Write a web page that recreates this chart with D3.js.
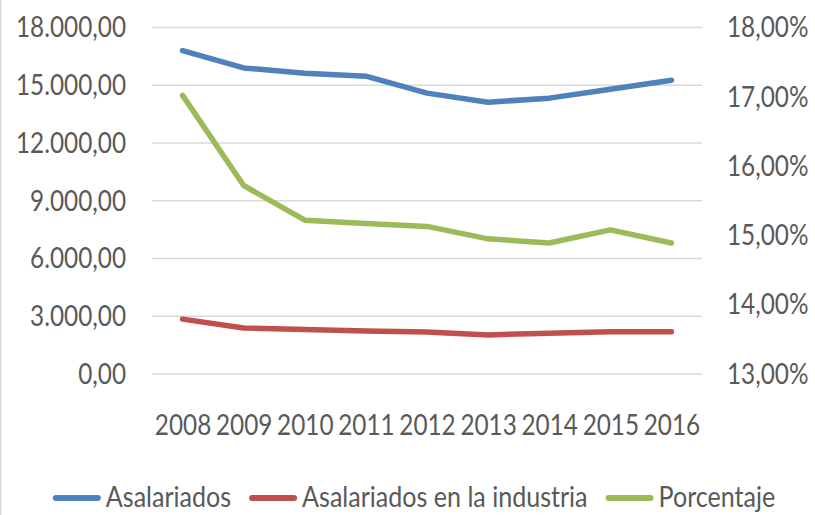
<!DOCTYPE html>
<html>
<head>
<meta charset="utf-8">
<title>Asalariados</title>
<script src="https://cdn.jsdelivr.net/npm/d3@7"></script>
<style>
	body { margin: 0; background: #fff; }
	text { font-family: Lato, "Open Sans", sans-serif; fill: #595959; }
	.grid line { stroke: #d9d9d9; stroke-width: 1.5; }
	.serie { fill: none; stroke-width: 5.5; stroke-linecap: round; stroke-linejoin: round; }
</style>
</head>
<body>
<div id="chart"></div>
<script>
	// datos
	var anios = ["2008", "2009", "2010", "2011", "2012", "2013", "2014", "2015", "2016"];
	var asalariados = [16800, 15900, 15620, 15470, 14590, 14120, 14330, 14790, 15260];
	var industria = [2850, 2390, 2310, 2230, 2180, 2030, 2120, 2200, 2200];
	var porcentaje = [17.02, 15.72, 15.22, 15.17, 15.13, 14.95, 14.89, 15.08, 14.89];
	var ticksIzq = [0, 3000, 6000, 9000, 12000, 15000, 18000];
	var ticksDer = [13, 14, 15, 16, 17, 18];

	var width = 815, height = 515;

	var svg = d3.select("#chart").append("svg")
		.attr("width", width)
		.attr("height", height);

	// borde del grafico
	svg.append("line")
		.attr("x1", 0.75).attr("x2", 0.75)
		.attr("y1", 0).attr("y2", height)
		.attr("stroke", "#d9d9d9").attr("stroke-width", 1.5);

	var x = d3.scalePoint().domain(anios).range([152, 702]).padding(0.5);
	var yIzq = d3.scaleLinear().domain([0, 18000]).range([374, 27.5]);
	var yDer = d3.scaleLinear().domain([13, 18]).range([374, 27.5]);

	var fmtMiles = function(v) {
		return d3.format(",.2f")(v).replace(/,/g, "#").replace(".", ",").replace(/#/g, ".");
	};
	var fmtPct = function(v) { return d3.format(".2f")(v).replace(".", ",") + "%"; };

	// la fuente del original es estrecha: se comprime el texto horizontalmente
	var prueba = svg.append("text").attr("font-size", 29).text("18.000,00");
	var k = 110 / prueba.node().getComputedTextLength();
	prueba.remove();
	function estrechar(sel, f) {
		var ancho = 0;
		sel.each(function() {
			var w = this.getComputedTextLength() * k * (f || 1);
			ancho = w;
			d3.select(this)
				.attr("textLength", w)
				.attr("lengthAdjust", "spacingAndGlyphs");
		});
		return ancho;
	}

	// lineas de cuadricula
	svg.append("g").attr("class", "grid")
		.selectAll("line")
		.data(ticksIzq)
		.enter().append("line")
		.attr("x1", 152).attr("x2", 702)
		.attr("y1", function(d) { return yIzq(d); })
		.attr("y2", function(d) { return yIzq(d); });

	// eje izquierdo
	var ejeIzq = svg.append("g")
		.attr("transform", "translate(126,0)")
		.call(d3.axisLeft(yIzq).tickValues(ticksIzq).tickFormat(fmtMiles).tickSize(0).tickPadding(0));
	// eje derecho
	var ejeDer = svg.append("g")
		.attr("transform", "translate(727,0)")
		.call(d3.axisRight(yDer).tickValues(ticksDer).tickFormat(fmtPct).tickSize(0).tickPadding(0));
	// eje x
	var ejeX = svg.append("g")
		.attr("transform", "translate(0,374)")
		.call(d3.axisBottom(x).tickSize(0).tickPadding(0));

	[ejeIzq, ejeDer, ejeX].forEach(function(g) {
		g.select(".domain").remove();
		g.selectAll("text")
			.attr("font-size", 29)
			.attr("fill", "#595959")
			.style("font-family", null);
		g.attr("font-family", null);
		estrechar(g.selectAll("text"));
	});
	ejeX.selectAll("text").attr("dy", null).attr("y", 61);

	var series = [
		{nombre: "Asalariados", valores: asalariados, color: "#4f81bd", y: yIzq},
		{nombre: "Asalariados en la industria", valores: industria, color: "#c0504d", y: yIzq},
		{nombre: "Porcentaje", valores: porcentaje, color: "#9bbb59", y: yDer}
	];

	series.forEach(function(s) {
		var linea = d3.line()
			.x(function(d, i) { return x(anios[i]); })
			.y(function(d) { return s.y(d); });
		svg.append("path")
			.attr("class", "serie")
			.attr("stroke", s.color)
			.attr("d", linea(s.valores));
	});

	// leyenda
	var leyenda = svg.append("g");
	var pos = 0;
	series.forEach(function(s, i) {
		var g = leyenda.append("g").attr("transform", "translate(" + pos + ",0)");
		g.append("line")
			.attr("x1", 3).attr("x2", 45)
			.attr("y1", 498).attr("y2", 498)
			.attr("stroke", s.color).attr("stroke-width", 6)
			.attr("stroke-linecap", "round");
		var t = g.append("text")
			.attr("x", 53).attr("y", 507)
			.attr("font-size", 29)
			.text(s.nombre);
		var w = estrechar(t, 1.03);
		pos += 53 + w + 18;
	});
	var total = pos - 18;
	leyenda.attr("transform", "translate(" + (414 - total / 2) + ",0)");
</script>
</body>
</html>
